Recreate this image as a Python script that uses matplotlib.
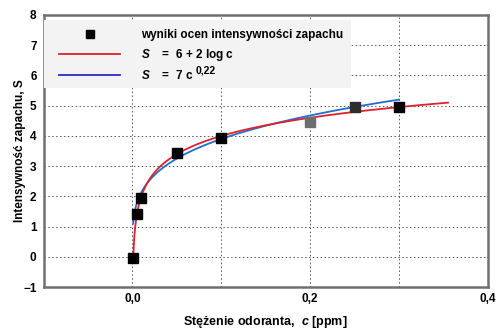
import numpy as np
from matplotlib import pyplot as plt
from matplotlib.lines import Line2D
from matplotlib.patches import Rectangle

plt.rcParams['font.family'] = ['Liberation Sans', 'DejaVu Sans']
plt.rcParams['font.weight'] = 'bold'
plt.rcParams['axes.labelweight'] = 'bold'
plt.rcParams['mathtext.fontset'] = 'custom'
plt.rcParams['mathtext.rm'] = 'Liberation Sans:bold'
plt.rcParams['mathtext.it'] = 'Liberation Sans:italic:bold'
plt.rcParams['mathtext.bf'] = 'Liberation Sans:italic:bold'

# measured odour intensities
conc_ppm = [0.001, 0.005, 0.01, 0.05, 0.1, 0.2, 0.25, 0.3]
intensity = [-0.05, 1.43, 1.95, 3.42, 3.93, 4.45, 4.95, 4.97]
point_colors = ['black', 'black', 'black', 'black', 'black', '#6e6e6e', '#2e2e2e', 'black']

# fitted models (legend parameters)
log_a, log_b = 6.0, 2.0
pow_a, pow_b = 7.13, 0.262
c_log_range = (0.001, 0.355)
c_pow_range = (0.0008, 0.3)

fig = plt.figure(figsize=(5.0, 3.32), dpi=100)
ax = fig.add_axes([0.087, 0.135, 0.889, 0.82])

c_log = np.geomspace(*c_log_range, 300)
c_pow = np.geomspace(*c_pow_range, 300)
ax.plot(c_pow, pow_a * c_pow ** pow_b, color='#1f6fd2', lw=1.3, zorder=3)
ax.plot(c_log, log_a + log_b * np.log10(c_log), color='#e0202c', lw=1.3, zorder=4)
for c, s, col in zip(conc_ppm, intensity, point_colors):
    ax.plot(c, s, marker='s', ms=7.5, color=col, ls='none', zorder=5)

ax.set_xlim(-0.1, 0.4)
ax.set_ylim(-1, 8)
ax.set_xticks([0.0, 0.2, 0.4])
ax.set_xticklabels(['0,0', '0,2', '0,4'])
ax.set_xticks([0.1, 0.3], minor=True)
ax.set_yticks(range(-1, 9))
ax.tick_params(which='both', length=0, labelsize=8.5, pad=5)
ax.tick_params(axis='x', pad=4)
ax.grid(which='both', color='#555555', ls=(0, (1.5, 2.5)), lw=0.7)
for sp in ax.spines.values():
    sp.set_color('#707070')
    sp.set_linewidth(1.8)

ax.set_xlabel('Stężenie odoranta,  $\\mathit{c}$ [ppm]', fontsize=9, labelpad=7)
ax.set_ylabel('Intensywność zapachu, S', fontsize=8.5, labelpad=-2)

# legend background
ax.add_patch(Rectangle((0.0, 0.732), 0.692, 0.25, transform=ax.transAxes,
                       facecolor='#f3f3f3', edgecolor='none', zorder=6))

handles = [Line2D([], [], marker='s', ms=6, color='black', ls='none'),
           Line2D([], [], color='#e0202c', lw=1.3),
           Line2D([], [], color='#2a2ac8', lw=1.3)]
labels = ['wyniki ocen intensywności zapachu',
          '$\\mathit{S}$    =  6 + 2 log c',
          '$\\mathit{S}$    =  7 c']
leg = ax.legend(handles, labels, loc='upper left', bbox_to_anchor=(0.035, 0.947),
                fontsize=8.5, handlelength=5.2, handletextpad=1.75, labelspacing=0.5,
                frameon=False, borderpad=0, borderaxespad=0)
leg.set_zorder(7)

# exponent of the power model, raised next to its legend entry
fig.canvas.draw()
bb = leg.get_texts()[2].get_window_extent()
sx, sy = fig.transFigure.inverted().transform((bb.x1 + 2, bb.y1 - 1))
fig.text(sx, sy, '0,22', fontsize=7.5, ha='left', va='center', zorder=8)

fig.savefig('out.png', dpi=100)
